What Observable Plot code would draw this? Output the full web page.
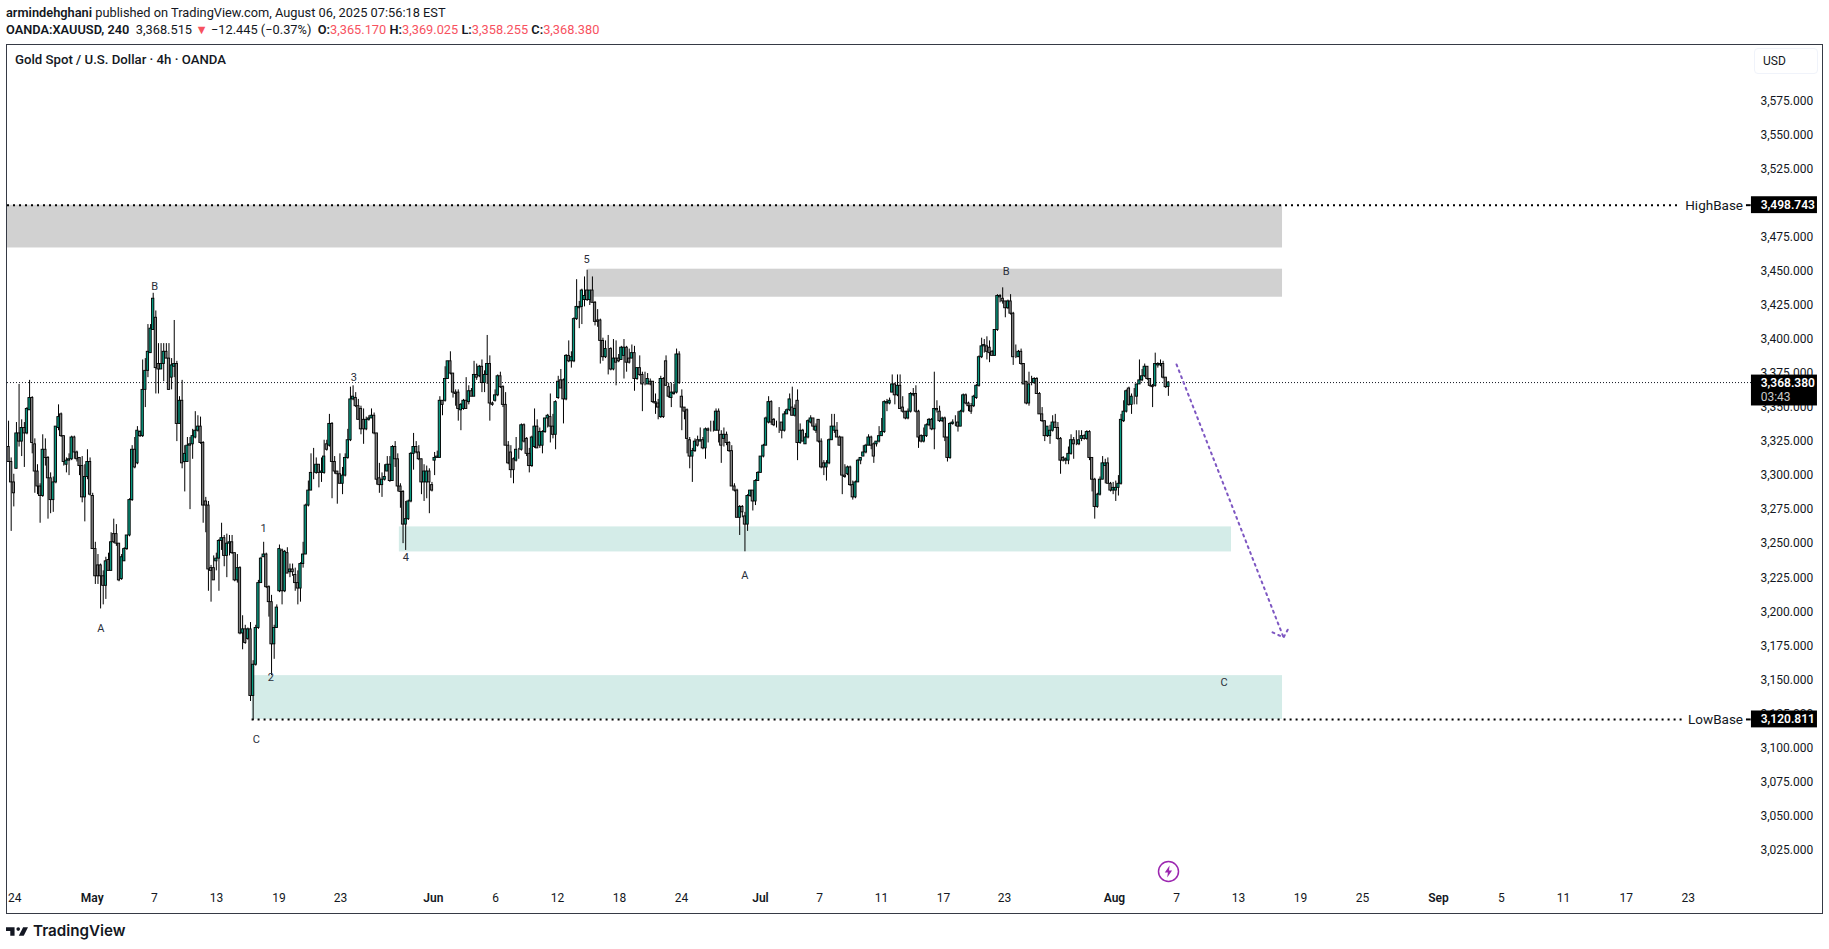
<!DOCTYPE html>
<html><head><meta charset="utf-8">
<script src="https://cdn.jsdelivr.net/npm/d3@7"></script>
<script src="https://cdn.jsdelivr.net/npm/@observablehq/plot@0.6"></script>
<style>
html,body{margin:0;padding:0;background:#fff;overflow:hidden;width:1829px;height:949px;font-family:Roboto,sans-serif;color:#131722}
.hdr{position:absolute;left:6px;font-size:12.8px;line-height:16px;white-space:nowrap}
.hdr b{font-weight:600}.red{color:#f7525f}
#chart{position:absolute;left:0;top:44px}
#frame{position:absolute;left:6px;top:43.5px;width:1815px;height:868px;border:1px solid #363a45;pointer-events:none}
#title{position:absolute;left:15px;top:52px;font-size:13.2px;line-height:16px;font-weight:500}
#usd{position:absolute;left:1754px;top:48px;width:54px;height:24px;padding-left:8px;border:1px solid #f0f3fa;border-radius:4px;font-size:12px;line-height:24px;box-sizing:content-box}
#bolt{position:absolute;left:1157px;top:860px}
#logo{position:absolute;left:6px;top:923px;display:flex;align-items:center;gap:5px;font-family:Inter,Roboto,sans-serif;font-weight:600;font-size:15.2px;line-height:16px;color:#131722}
</style></head><body>
<div class="hdr" style="top:5px"><b>armindehghani</b> published on TradingView.com, August 06, 2025 07:56:18 EST</div>
<div class="hdr" style="top:22px"><b>OANDA:XAUUSD, 240</b>&nbsp; 3,368.515 <span class="red">▼</span> −12.445 (−0.37%)&nbsp; <b>O:</b><span class="red">3,365.170</span>&nbsp;<b>H:</b><span class="red">3,369.025</span>&nbsp;<b>L:</b><span class="red">3,358.255</span>&nbsp;<b>C:</b><span class="red">3,368.380</span></div>
<div id="chart"></div>
<div id="frame"></div>
<div id="title">Gold Spot / U.S. Dollar · 4h · OANDA</div>
<div id="usd">USD</div>
<svg id="bolt" width="23" height="23" viewBox="0 0 23 23"><circle cx="11.5" cy="11.5" r="10" fill="#fff" stroke="#9c27b0" stroke-width="1.5"/><path d="M12.6 5.6 7.8 12.6h3.1l-.7 4.8 4.9-7h-3.1z" fill="#9c27b0"/></svg>
<div id="logo"><svg width="22" height="11" viewBox="0 0 36 18"><path d="M14 2H0v6h7v8h7z" fill="#131722"/><circle cx="20" cy="5" r="3" fill="#131722"/><path d="M28 2h8l-7 14h-8z" fill="#131722"/></svg><span>TradingView</span></div>
<script>
const opens = [
3321,3310,3295,3305,3331,3325,3335,3331,3348,
3357,3323,3303,3292,3285,3319,3313,3298,3282,3295,
3335,3345,3329,3308,3311,3312,3328,3317,3313,3307,
3284,3299,3310,3285,3246,3234,3234,3226,3219,3238,
3230,3257,3257,3250,3224,3237,3246,3256,3282,3319,
3309,3332,3329,3363,3377,3390,3407,3416,3382,3378,
3382,3391,3386,3372,3380,3382,3338,3355,3310,3310,
3322,3323,3328,3333,3336,3324,3281,3278,3232,3232,
3237,3239,3252,3254,3241,3250,3251,3243,3223,
3232,3184,3187,3180,3187,3138,3161,3188,3221,3240,
3242,3218,3207,3176,3188,3215,3245,3215,3243,3229,
3231,3227,3221,3217,3235,3242,3278,3289,3302,3302,
3308,3302,3302,3323,3322,3338,3310,3303,3301,3294,
3300,3313,3326,3356,3357,3351,3349,3341,3334,3341,
3342,3344,3331,3298,3293,3297,3303,3308,3296,3321,
3312,3292,3288,3264,3268,3281,3316,3321,3317,3312,
3295,3295,3303,3293,3311,3313,3313,3355,3355,3371,
3384,3375,3361,3361,3348,3349,3355,3354,3362,3358,
3374,3373,3380,3368,3374,3382,3353,3355,3359,3373,
3365,3352,3322,3317,3312,3311,3319,3319,3337,3327,
3316,3307,3321,3336,3322,3322,3332,3342,3343,3336,
3330,3357,3370,3370,3356,3388,3384,3384,3415,3423,
3424,3429,3436,3429,3436,3427,3414,3414,3399,3387,3393,
3393,3378,3386,3386,3385,3388,3394,3386,3386,3390,
3371,3379,3374,3367,3367,3369,3369,3354,3353,3343,
3371,3384,3365,3357,3360,3361,3389,3358,3350,3348,
3326,3314,3318,3326,3325,3326,3320,3334,3333,3333,
3333,3347,3330,3327,3330,3324,3318,3292,3289,3269,3277,
3270,3264,3285,3289,3281,3296,3302,3314,3322,3339,
3354,3341,3339,3339,3339,3333,3345,3348,3350,3344,
3355,3324,3333,3323,3328,3339,3342,3333,3341,3325,
3309,3306,3309,3326,3333,3333,3328,3328,3300,3301,
3306,3293,3284,3295,3311,3314,3317,3322,3328,3323,
3323,3325,3329,3332,3353,3353,3361,3367,3359,3366,
3350,3347,3342,3347,3359,3360,3347,3329,3325,3329,
3337,3341,3334,3349,3347,3340,3342,3328,3313,3338,
3339,3339,3336,3347,3359,3353,3351,3351,3357,3366,
3387,3395,3395,3394,3391,3388,3407,3431,3430,3428,
3423,3428,3419,3387,3387,3391,3382,3369,3353,3367,
3368,3371,3360,3345,3340,3329,3329,3333,3339,3335,
3327,3313,3311,3311,3316,3326,3323,3323,3327,3329,
3327,3332,3313,3297,3277,3286,3297,3307,3309,3294,
3289,3289,3291,3294,3340,3347,3364,3352,3358,3358,
3367,3370,3373,3380,3371,3366,3366,3381,3381,3382,
3372,3365.17];
const highs = [
3340,3313,3301,3339,3367,3341,3339,3350,3370,
3358,3327,3308,3294,3330,3327,3314,3302,3299,3336,
3352,3346,3329,3313,3316,3329,3329,3318,3313,3314,
3308,3319,3313,3287,3251,3242,3235,3230,3240,3243,
3258,3268,3264,3250,3242,3247,3256,3283,3322,3328,
3336,3333,3385,3386,3411,3411,3434,3421,3397,3397,
3397,3397,3397,3386,3414,3384,3358,3370,3322,3328,
3328,3334,3347,3344,3343,3325,3284,3281,3234,3241,
3243,3253,3265,3256,3257,3256,3256,3243,3242,
3233,3197,3190,3188,3192,3164,3190,3223,3240,3251,
3243,3219,3212,3190,3205,3249,3246,3245,3247,3235,
3235,3232,3230,3236,3251,3279,3296,3316,3320,3313,
3308,3313,3326,3326,3345,3339,3314,3303,3316,3306,
3316,3334,3365,3366,3361,3356,3351,3349,3343,3344,
3349,3346,3331,3309,3302,3308,3314,3314,3322,3325,
3316,3294,3289,3281,3282,3317,3331,3325,3322,3312,
3308,3307,3305,3295,3317,3318,3358,3355,3380,3384,
3391,3375,3363,3363,3353,3356,3372,3366,3364,3384,
3382,3381,3385,3377,3403,3388,3354,3363,3374,3376,
3366,3361,3325,3322,3313,3328,3320,3338,3338,3328,
3320,3329,3349,3341,3335,3333,3342,3345,3360,3345,
3355,3373,3378,3371,3389,3399,3391,3416,3444,3428,
3437,3446,3451,3436,3446,3428,3422,3415,3401,3399,3403,
3394,3400,3399,3389,3395,3400,3395,3393,3396,3395,
3379,3388,3376,3376,3375,3371,3369,3360,3356,3373,
3372,3388,3368,3368,3367,3393,3391,3363,3350,3349,
3328,3320,3327,3329,3335,3328,3335,3335,3340,3340,
3349,3349,3333,3335,3332,3325,3322,3294,3290,3278,3278,
3273,3286,3289,3289,3297,3303,3314,3323,3343,3358,
3355,3342,3340,3350,3339,3347,3349,3360,3365,3352,
3363,3338,3334,3331,3341,3344,3342,3338,3341,3327,
3311,3311,3327,3345,3345,3339,3329,3328,3308,3307,
3307,3296,3296,3312,3313,3322,3323,3330,3329,3324,
3325,3336,3342,3355,3356,3357,3374,3368,3374,3374,
3358,3347,3349,3361,3364,3366,3348,3330,3335,3338,
3342,3342,3376,3355,3351,3343,3343,3328,3339,3341,
3344,3347,3348,3360,3360,3354,3353,3359,3367,3388,
3401,3400,3402,3399,3392,3407,3433,3433,3438,3428,
3429,3433,3420,3396,3392,3393,3382,3369,3376,3373,
3372,3372,3361,3350,3340,3336,3337,3344,3345,3339,
3328,3314,3313,3321,3330,3328,3333,3333,3333,3330,
3333,3333,3313,3298,3287,3299,3314,3312,3313,3295,
3295,3296,3300,3345,3355,3363,3365,3360,3364,3367,
3385,3378,3382,3380,3371,3367,3390,3383,3385,3384,
3372,3369.03];
const lows = [
3310,3259,3277,3305,3321,3314,3306,3330,3348,
3316,3287,3286,3265,3284,3307,3268,3272,3273,3294,
3333,3328,3307,3302,3300,3311,3312,3310,3300,3280,
3266,3297,3285,3246,3220,3220,3202,3205,3209,3230,
3230,3250,3248,3222,3223,3237,3245,3255,3281,3305,
3308,3328,3328,3350,3372,3390,3407,3360,3360,3378,
3369,3386,3363,3363,3372,3325,3338,3305,3288,3310,
3275,3312,3327,3332,3323,3265,3258,3215,3207,3223,
3230,3215,3245,3233,3225,3241,3242,3222,3221,
3183,3172,3176,3179,3134,3120,3160,3187,3221,3240,
3217,3196,3153,3165,3188,3214,3205,3214,3228,3225,
3226,3215,3205,3207,3232,3242,3277,3289,3297,3301,
3291,3295,3301,3318,3321,3283,3301,3279,3294,3286,
3299,3312,3325,3355,3350,3341,3330,3323,3333,3340,
3342,3330,3293,3287,3284,3296,3303,3295,3296,3306,
3288,3276,3250,3245,3267,3280,3304,3316,3311,3286,
3281,3283,3272,3288,3300,3313,3313,3344,3354,3371,
3374,3357,3351,3340,3333,3348,3349,3352,3358,3358,
3370,3372,3361,3361,3367,3340,3351,3354,3358,3364,
3350,3322,3308,3298,3294,3310,3312,3318,3324,3314,
3302,3306,3320,3320,3320,3316,3331,3335,3324,3327,
3319,3356,3364,3338,3355,3383,3379,3383,3414,3408,
3411,3424,3428,3425,3427,3410,3409,3382,3384,3386,3374,
3377,3377,3366,3383,3385,3371,3376,3382,3386,3362,
3370,3373,3347,3366,3367,3366,3353,3345,3341,3342,
3342,3366,3357,3350,3359,3360,3367,3333,3341,3316,
3305,3295,3317,3321,3325,3319,3312,3324,3332,3332,
3333,3324,3309,3321,3322,3317,3292,3288,3269,3256,3269,
3244,3259,3284,3274,3278,3296,3302,3313,3322,3338,
3337,3336,3335,3331,3327,3332,3345,3347,3344,3343,
3311,3323,3325,3323,3327,3338,3333,3331,3324,3305,
3300,3296,3308,3326,3331,3328,3322,3286,3298,3300,
3292,3282,3283,3295,3308,3314,3316,3322,3319,3309,
3321,3324,3329,3331,3347,3352,3361,3352,3358,3349,
3346,3341,3341,3346,3358,3346,3320,3324,3324,3328,
3336,3333,3319,3346,3339,3339,3325,3310,3312,3337,
3336,3332,3336,3346,3352,3347,3345,3350,3356,3365,
3386,3390,3385,3383,3388,3388,3406,3427,3426,3416,
3422,3418,3381,3386,3387,3381,3367,3352,3351,3366,
3367,3360,3345,3339,3325,3328,3323,3332,3335,3326,
3301,3310,3308,3308,3315,3312,3322,3322,3325,3326,
3326,3311,3288,3268,3276,3285,3297,3294,3294,3288,
3286,3281,3285,3293,3339,3346,3351,3345,3352,3352,
3367,3369,3372,3370,3365,3350,3365,3379,3380,3371,
3364,3358.26];
const closes = [
3310,3295,3287,3331,3325,3335,3331,3349,3357,
3324,3303,3292,3285,3319,3313,3298,3282,3295,3336,
3343,3329,3310,3311,3312,3328,3317,3312,3307,3284,
3299,3310,3286,3246,3226,3226,3226,3219,3237,3230,
3251,3251,3250,3223,3240,3246,3256,3282,3319,3306,
3333,3329,3363,3377,3391,3408,3430,3379,3378,3382,
3391,3386,3363,3381,3382,3338,3355,3309,3316,3322,
3323,3329,3333,3336,3324,3278,3278,3231,3230,3223,
3239,3252,3254,3241,3250,3251,3243,3223,3232,
3184,3187,3177,3187,3138,3161,3188,3221,3239,3242,
3218,3207,3176,3188,3203,3246,3215,3244,3228,3231,
3229,3221,3217,3235,3242,3278,3289,3302,3302,3308,
3302,3303,3314,3319,3338,3310,3303,3301,3294,3300,
3313,3326,3356,3358,3351,3341,3334,3334,3341,3342,
3344,3331,3297,3293,3297,3299,3308,3296,3321,3312,
3292,3288,3264,3268,3281,3316,3321,3317,3312,3295,
3303,3303,3295,3289,3313,3314,3355,3352,3371,3384,
3375,3361,3360,3349,3352,3355,3349,3362,3358,3374,
3372,3380,3368,3374,3382,3353,3352,3359,3373,3365,
3352,3322,3309,3304,3304,3319,3319,3337,3325,3316,
3307,3328,3336,3320,3332,3332,3342,3344,3336,3330,
3354,3369,3364,3356,3388,3384,3387,3415,3424,3424,
3436,3432,3429,3436,3427,3413,3413,3399,3387,3393,3393,
3378,3386,3383,3384,3394,3394,3383,3383,3390,3371,
3379,3374,3367,3367,3371,3367,3354,3353,3350,3371,
3343,3366,3358,3361,3361,3389,3368,3350,3347,3327,
3314,3318,3325,3322,3326,3320,3334,3333,3333,3333,
3347,3333,3322,3330,3324,3318,3292,3289,3269,3277,3273,
3264,3285,3289,3281,3296,3302,3314,3322,3342,3354,
3339,3337,3339,3339,3333,3345,3348,3356,3344,3349,
3324,3333,3325,3328,3340,3342,3336,3336,3325,3306,
3306,3309,3326,3336,3336,3328,3322,3300,3299,3306,
3293,3284,3295,3311,3313,3317,3322,3328,3322,3314,
3325,3329,3332,3354,3354,3355,3367,3359,3366,3349,
3347,3342,3347,3360,3360,3347,3328,3325,3329,3337,
3341,3334,3349,3348,3340,3342,3328,3313,3338,3339,
3339,3336,3347,3359,3353,3351,3347,3358,3366,3387,
3395,3396,3391,3390,3388,3407,3432,3432,3428,3423,
3428,3419,3387,3387,3391,3382,3367,3353,3367,3367,
3371,3360,3345,3340,3329,3336,3333,3339,3335,3327,
3311,3311,3312,3316,3326,3323,3323,3326,3329,3327,
3332,3313,3297,3277,3286,3297,3309,3309,3294,3289,
3291,3291,3294,3341,3347,3362,3352,3358,3358,3367,
3370,3373,3380,3371,3366,3365,3382,3382,3382,3372,
3365,3368.38];

const priceTicks = [3575,3550,3525,3475,3450,3425,3400,3375,3350,3325,3300,3275,3250,3225,3200,3175,3150,3125,3100,3075,3050,3025];
const dayTicks = [2.4,55.4,79.1,102.8,126.2,185.2,208.7,232.3,255.9,308.4,331.9,355.5,378.7,444.1,467.7,491.2,514.8,567.6,591.2,615.1,638.7];
const dayLabels = ["24","7","13","19","23","6","12","18","24","7","11","17","23","7","13","19","25","5","11","17","23"];
const monthTicks = [31.8,161.5,285.9,420.5,543.7];
const monthLabels = ["May","Jun","Jul","Aug","Sep"];

const highBase = 3498.743, lowBase = 3120.811, lastPrice = 3368.38;
const grayZones = [{x1:-0.4,x2:484.4,y1:highBase,y2:3467.3},{x1:220.4,x2:484.4,y1:3451.7,y2:3431.1}];
const greenZones = [{x1:148.6,x2:465,y1:3262.3,y2:3243.9},{x1:92.6,x2:484.4,y1:3153,y2:lowBase}];
const waveLabels = [["B",55.6,3439.2],["3",131.3,3372.4],["5",219.8,3459],["B",379.3,3449.7],["1",97,3261.4],["2",99.7,3151.5],["4",151.1,3239.6],["A",35.1,3187.4],["C",94.2,3106],["A",280,3226.3],["C",462.2,3147.8]];
const forecast = [[444.1,3381.7],[484.8,3181.1]];
const forecastHead = [[480.6,3184.8],[484.8,3181.1],[487,3189]];

const bars = d3.range(opens.length).map(i => ({i, o:opens[i], h:highs[i], l:lows[i], c:closes[i]}));
const up = bars.filter(d => d.c >= d.o), down = bars.filter(d => d.c < d.o);
const fmt = d3.format(",.3f");
const candleHalf = 0.44;
const body = {x1:d => d.i - candleHalf, x2:d => d.i + candleHalf, y1:"o", y2:"c", stroke:"#000", strokeWidth:0.9};
const tagFrom = 662.7, tagTo = 687.8, tagText = 666.2;

const plot = Plot.plot({
  width:1829, height:868, marginLeft:7, marginRight:77, marginTop:1, marginBottom:28,
  style:{background:"transparent", color:"#131722", fontFamily:"Roboto,sans-serif", fontSize:"12px"},
  x:{domain:[-0.4,663.1]},
  y:{domain:[2999.5,3616.1]},
  marks:[
    Plot.rect(grayZones,{x1:"x1",x2:"x2",y1:"y1",y2:"y2",fill:"#d1d1d1"}),
    Plot.rect(greenZones,{x1:"x1",x2:"x2",y1:"y1",y2:"y2",fill:"#d4ece8"}),
    Plot.ruleY([lastPrice],{stroke:"#131722",strokeWidth:1,strokeDasharray:"1 2"}),
    Plot.ruleY([highBase],{x1:-0.4,x2:635.7,stroke:"#000",strokeWidth:2,strokeDasharray:"2 4"}),
    Plot.ruleY([highBase],{x1:660.8,x2:662.6,stroke:"#000",strokeWidth:2}),
    Plot.ruleY([lowBase],{x1:92.6,x2:637,stroke:"#000",strokeWidth:2,strokeDasharray:"2 4"}),
    Plot.ruleY([lowBase],{x1:660.8,x2:662.6,stroke:"#000",strokeWidth:2}),
    Plot.ruleX(bars,{x:"i",y1:"l",y2:"h",stroke:"#000",strokeWidth:1}),
    Plot.rect(up,{...body,fill:"#089981"}),
    Plot.rect(down,{...body,fill:"#808080"}),
    Plot.line(forecast,{x:d=>d[0],y:d=>d[1],stroke:"#7e57c2",strokeWidth:2,strokeDasharray:"2 4.3"}),
    Plot.line(forecastHead,{x:d=>d[0],y:d=>d[1],stroke:"#7e57c2",strokeWidth:2,strokeDasharray:"2 4.3"}),
    Plot.text(waveLabels,{x:d=>d[1],y:d=>d[2],text:d=>d[0],fontSize:11,fill:"#2a2e39"}),
    Plot.axisX(dayTicks,{anchor:"bottom",tickSize:0,tickPadding:9,label:null,fontSize:12,tickFormat:d=>dayLabels[dayTicks.indexOf(d)]}),
    Plot.axisX(monthTicks,{anchor:"bottom",tickSize:0,tickPadding:9,label:null,fontSize:12,fontWeight:600,tickFormat:d=>monthLabels[monthTicks.indexOf(d)]}),
    Plot.axisY(priceTicks,{anchor:"right",tickSize:0,tickPadding:8,label:null,fontSize:12,tickFormat:fmt}),
    Plot.rect([{y1:highBase+6.2,y2:highBase-6.2},{y1:lowBase+6.2,y2:lowBase-6.2},{y1:lastPrice+5.5,y2:lastPrice-17.2}],{x1:tagFrom,x2:tagTo,y1:"y1",y2:"y2",fill:"#000"}),
    Plot.text([highBase,lowBase],{x:tagText,y:d=>d,text:d=>fmt(d),fill:"#fff",fontSize:12,fontWeight:600,textAnchor:"start"}),
    Plot.text([lastPrice],{x:tagText,y:3368.2,text:d=>fmt(d),fill:"#fff",fontSize:12,fontWeight:600,textAnchor:"start"}),
    Plot.text(["03:43"],{x:tagText,y:3357.7,text:d=>d,fill:"#c8c8c8",fontSize:12,textAnchor:"start"}),
    Plot.text(["HighBase"],{x:659.5,y:highBase,text:d=>d,fontSize:13.5,fill:"#131722",textAnchor:"end"}),
    Plot.text(["LowBase"],{x:659.5,y:lowBase,text:d=>d,fontSize:13.5,fill:"#131722",textAnchor:"end"})
  ]
});
document.getElementById("chart").appendChild(plot);
</script>
</body></html>
